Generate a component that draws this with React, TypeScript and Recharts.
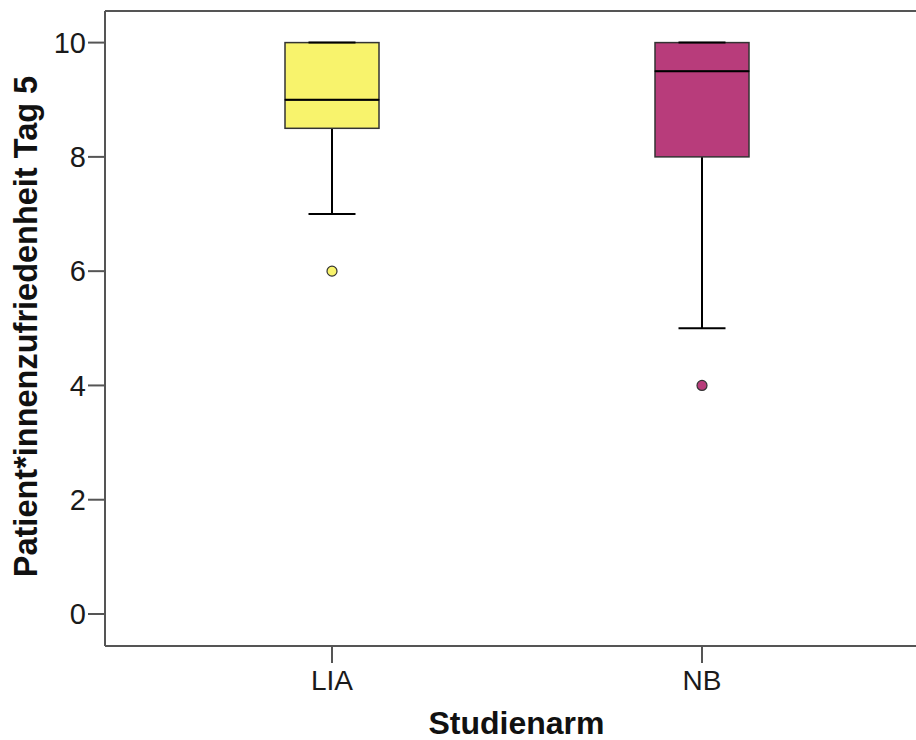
import React from 'react';
import { ComposedChart, Bar, Scatter, XAxis, YAxis, ReferenceLine, Label, Cell } from 'recharts';

const categories = ['LIA', 'NB'];
const whiskerLow = [7, 5];
const quartile1 = [8.5, 8];
const medians = [9, 9.5];
const quartile3 = [10, 10];
const whiskerHigh = [10, 10];
const outliers = [6, 4];
const boxColors = ['#f8f36c', '#b83c7b'];
const yTicks = [0, 2, 4, 6, 8, 10];

const Y_MIN = -0.56;
const Y_MAX = 10.553;

const data = categories.map((name, i) => ({
  name,
  base: whiskerLow[i],
  lowWhisker: quartile1[i] - whiskerLow[i],
  lowBox: medians[i] - quartile1[i],
  highBox: quartile3[i] - medians[i],
  highWhisker: whiskerHigh[i] - quartile3[i],
  outlier: outliers[i],
  boxColor: boxColors[i],
}));

const FONT = '"Liberation Sans", Arial, Helvetica, sans-serif';
const AXIS = '#555555';
const BOX_STROKE = '#333333';
const CAP = 47;

const LowWhiskerShape = (p: any) => {
  const cx = p.x + p.width / 2;
  const yb = p.y + p.height;
  return (
    <g>
      <line x1={cx} x2={cx} y1={p.y} y2={yb} stroke="#000" strokeWidth={2} />
      <line x1={cx - CAP / 2} x2={cx + CAP / 2} y1={yb} y2={yb} stroke="#000" strokeWidth={2} />
    </g>
  );
};

const HighWhiskerShape = (p: any) => {
  const cx = p.x + p.width / 2;
  const yb = p.y + p.height;
  return (
    <g>
      <line x1={cx} x2={cx} y1={p.y} y2={yb} stroke="#000" strokeWidth={2} />
      <line x1={cx - CAP / 2} x2={cx + CAP / 2} y1={p.y} y2={p.y} stroke="#000" strokeWidth={2} />
    </g>
  );
};

const LowBoxShape = (p: any) => (
  <rect x={p.x} y={p.y} width={p.width} height={p.height} fill={p.payload.boxColor} stroke={BOX_STROKE} strokeWidth={1.5} />
);

const HighBoxShape = (p: any) => {
  const yb = p.y + p.height;
  return (
    <g>
      <rect x={p.x} y={p.y} width={p.width} height={p.height} fill={p.payload.boxColor} stroke={BOX_STROKE} strokeWidth={1.5} />
      <line x1={p.x} x2={p.x + p.width} y1={yb} y2={yb} stroke="#000" strokeWidth={2} />
    </g>
  );
};

const OutlierShape = (p: any) => (
  <circle cx={p.cx} cy={p.cy} r={5} fill={p.fill} stroke="#333" strokeWidth={1.2} />
);

const YLabel = (props: any) => {
  const vb = props.viewBox;
  const cy = vb.y + vb.height / 2 - 2;
  const x = 37;
  return (
    <text
      x={x}
      y={cy}
      transform={`rotate(-90, ${x}, ${cy})`}
      textAnchor="middle"
      fontFamily={FONT}
      fontWeight="bold"
      fontSize={32.5}
      fill="#111"
    >
      Patient*innenzufriedenheit Tag 5
    </text>
  );
};

const XLabel = (props: any) => {
  const vb = props.viewBox;
  return (
    <text x={vb.x + vb.width / 2 + 6} y={734} textAnchor="middle" fontFamily={FONT} fontWeight="bold" fontSize={32} fill="#111">
      Studienarm
    </text>
  );
};

export default function App() {
  return (
    <div style={{ position: 'absolute', left: 0, top: 0, background: '#fff' }}>
      <ComposedChart width={916} height={740} data={data} margin={{ top: 11, right: 0, bottom: 0, left: 0 }}>
        <XAxis
          dataKey="name"
          height={94}
          padding={{ left: 42, right: 29 }}
          tickSize={17}
          tickMargin={7}
          axisLine={{ stroke: AXIS, strokeWidth: 2 }}
          tickLine={{ stroke: AXIS, strokeWidth: 2 }}
          tick={{ fontSize: 28, fontFamily: FONT, fill: '#1a1a1a' }}
        >
          <Label content={XLabel} />
        </XAxis>
        <YAxis
          type="number"
          domain={[Y_MIN, Y_MAX]}
          ticks={yTicks}
          allowDataOverflow
          width={105}
          tickSize={17}
          tickMargin={2}
          axisLine={{ stroke: AXIS, strokeWidth: 2 }}
          tickLine={{ stroke: AXIS, strokeWidth: 2 }}
          tick={{ fontSize: 29, fontFamily: FONT, fill: '#1a1a1a' }}
        >
          <Label content={YLabel} />
        </YAxis>
        <ReferenceLine y={Y_MAX} stroke={AXIS} strokeWidth={2} ifOverflow="visible" />
        <Bar dataKey="base" stackId="box" barSize={94} fill="none" isAnimationActive={false} />
        <Bar dataKey="lowWhisker" stackId="box" barSize={94} shape={LowWhiskerShape} isAnimationActive={false} />
        <Bar dataKey="lowBox" stackId="box" barSize={94} shape={LowBoxShape} isAnimationActive={false} />
        <Bar dataKey="highBox" stackId="box" barSize={94} shape={HighBoxShape} isAnimationActive={false} />
        <Bar dataKey="highWhisker" stackId="box" barSize={94} shape={HighWhiskerShape} isAnimationActive={false} />
        <Scatter dataKey="outlier" shape={OutlierShape} isAnimationActive={false}>
          {data.map((d) => (
            <Cell key={d.name} fill={d.boxColor} />
          ))}
        </Scatter>
      </ComposedChart>
    </div>
  );
}
